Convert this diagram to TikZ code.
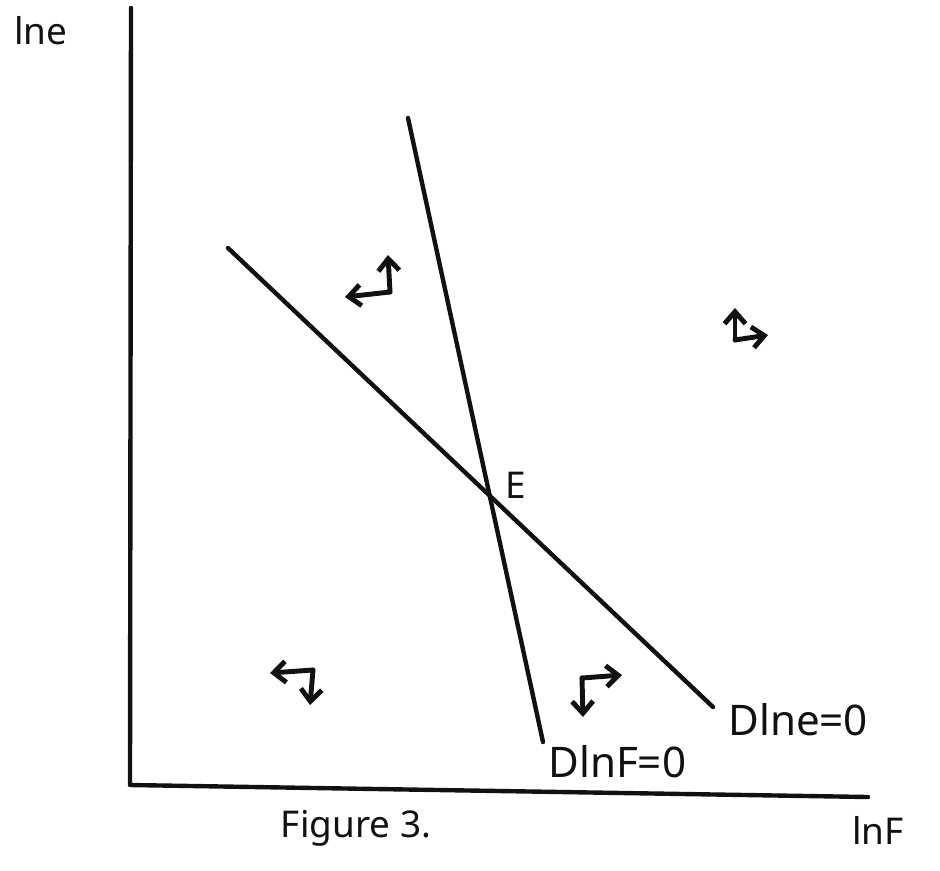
\documentclass[tikz,border=0pt]{standalone}
\usepackage{fontspec}
\setmainfont{Noto Sans}
\usetikzlibrary{arrows.meta}
\definecolor{sketchink}{HTML}{111111}

\tikzset{
  penline/.style={sketchink,line width=2.5pt,line cap=round,line join=round},
  flowarrow/.style={penline,line width=2.8pt,-{Straight Barb[length=2.4mm,width=4.2mm]}},
  handlabel/.style={text=sketchink,inner sep=0pt,font=\fontsize{21}{25}\selectfont},
  locuslabel/.style={handlabel,anchor=west,font=\fontsize{24}{28}\selectfont}
}

\begin{document}
\begin{tikzpicture}[x=0.02cm,y=-0.02cm]
    \useasboundingbox (0,0) rectangle (940,870);
    % axes
    \coordinate (origin) at (130,785);
    \coordinate (ytop) at (131,8);
    \coordinate (xend) at (868,797);
    \draw[penline] (ytop) -- (origin) -- (xend);
    \node[handlabel,anchor=west] (ylab) at (14,31) {lne};
    \node[handlabel,anchor=west] (xlab) at (852,830) {lnF};
    % the two loci
    \coordinate (fTop) at (408,118);
    \coordinate (fEnd) at (543,742);
    \coordinate (eTop) at (228,248);
    \coordinate (eEnd) at (713,707);
    \draw[penline] (fTop) -- (fEnd);
    \draw[penline] (eTop) -- (eEnd);
    \node[handlabel,anchor=west] (Elab) at (505,485) {E};
    \node[locuslabel] (eLocus) at (728,720) {Dlne=0};
    \node[locuslabel] (fLocus) at (548,762) {DlnF=0};
    % direction arrows
    \coordinate (ulCorner) at (390,292);
    \draw[flowarrow] (ulCorner) -- ++(-45,5);
    \draw[flowarrow] (ulCorner) -- ++(-2,-37);
    \coordinate (urCorner) at (735,340);
    \draw[flowarrow] (urCorner) -- ++(0,-32);
    \draw[flowarrow] (urCorner) -- ++(33,-5);
    \coordinate (llCorner) at (313,670);
    \draw[flowarrow] (llCorner) -- ++(-43,3);
    \draw[flowarrow] (llCorner) -- ++(-3,35);
    \coordinate (lrCorner) at (582,678);
    \draw[flowarrow] (lrCorner) -- ++(40,-3);
    \draw[flowarrow] (lrCorner) -- ++(1,39);
    \node[handlabel] (caption) at (356,828) {Figure 3.};
  \end{tikzpicture}
\end{document}
